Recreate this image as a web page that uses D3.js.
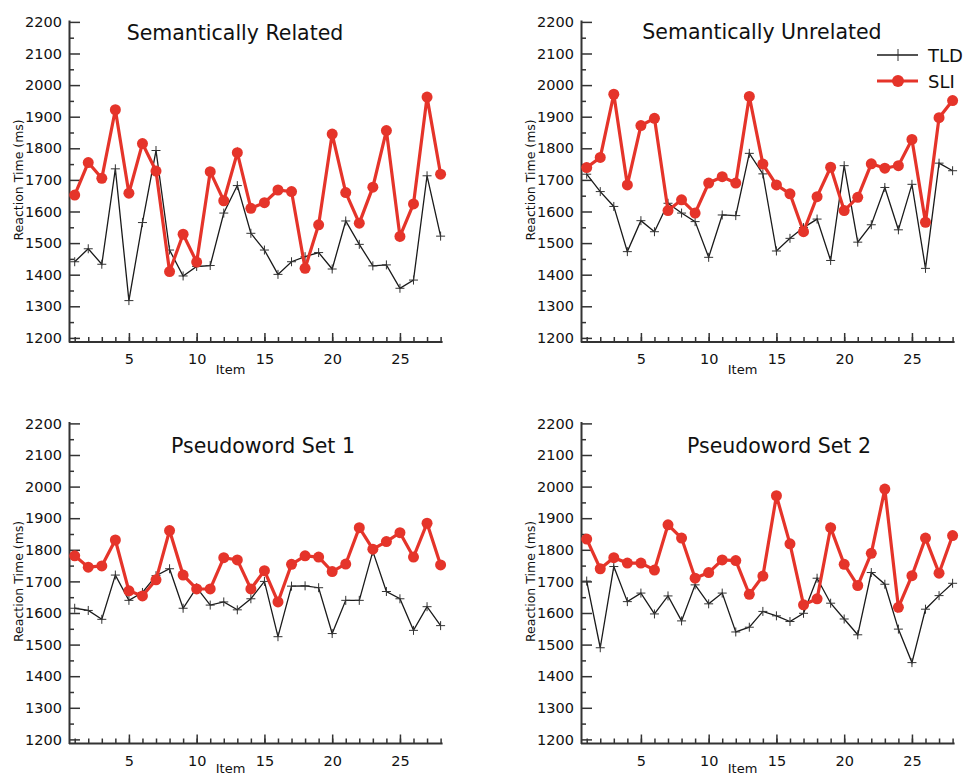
<!DOCTYPE html>
<html>
<head>
<meta charset="utf-8">
<script src="https://d3js.org/d3.v7.min.js"></script>
<style>
	body { margin: 0; background: #fff; }
	text { font-family: "DejaVu Sans", sans-serif; fill: #111; }
	.axis path, .axis line { stroke: #333; }
	.axis text { font-size: 14.5px; font-family: "DejaVu Sans", sans-serif; fill: #111; }
</style>
</head>
<body>
<script>
//item numbers 1..28
var items = d3.range(1, 29);

//tick labels
var yTicks = [1200, 1300, 1400, 1500, 1600, 1700, 1800, 1900, 2000, 2100, 2200],
	xTicks = [5, 10, 15, 20, 25];

//reaction times (ms)
var relatedTLD = [1441,1482,1433,1735,1318,1565,1793,1478,1396,1426,1429,1595,1682,1531,1478,1401,1441,1457,1470,1418,1570,1496,1428,1431,1357,1383,1713,1522];
var relatedSLI = [1652,1755,1705,1922,1658,1815,1728,1410,1528,1440,1726,1634,1786,1610,1628,1668,1663,1420,1558,1845,1660,1563,1677,1856,1521,1624,1962,1718];

var unrelatedTLD = [1718,1663,1616,1473,1571,1536,1626,1595,1568,1455,1589,1587,1784,1719,1475,1515,1549,1576,1445,1745,1503,1558,1676,1542,1686,1420,1753,1729];
var unrelatedSLI = [1739,1771,1971,1684,1872,1895,1603,1637,1595,1690,1710,1690,1964,1750,1684,1656,1536,1647,1740,1603,1645,1751,1737,1745,1828,1566,1897,1951];

var pseudo1TLD = [1615,1608,1580,1720,1640,1665,1718,1740,1615,1680,1625,1635,1610,1645,1700,1525,1685,1686,1680,1535,1640,1640,1795,1668,1645,1545,1620,1560];
var pseudo1SLI = [1781,1745,1749,1831,1670,1654,1705,1861,1720,1676,1676,1775,1768,1676,1734,1635,1754,1781,1777,1731,1755,1870,1802,1826,1854,1777,1884,1752];

var pseudo2TLD = [1701,1490,1747,1636,1663,1597,1654,1575,1689,1629,1663,1540,1555,1605,1591,1573,1599,1710,1631,1581,1531,1728,1691,1549,1443,1612,1655,1694];
var pseudo2SLI = [1834,1740,1775,1758,1758,1736,1879,1837,1710,1728,1768,1766,1659,1717,1971,1819,1626,1645,1870,1754,1687,1789,1992,1618,1718,1837,1726,1845];

var titles = ["Semantically Related", "Semantically Unrelated", "Pseudoword Set 1", "Pseudoword Set 2"];

window.onload = drawChart();

function drawChart(){

	var width = 967,
		height = 776,
		red = "#e5342a";

	var svg = d3.select("body")
		.append("svg")
		.attr("width", width)
		.attr("height", height);

	//panel placement: column, row, title centre, "Item" baseline
	var panels = [
		{title: titles[0], tld: relatedTLD, sli: relatedSLI, col: 0, row: 0, tx: 235, ty: 40, iy: 374},
		{title: titles[1], tld: unrelatedTLD, sli: unrelatedSLI, col: 1, row: 0, tx: 762, ty: 39, iy: 374},
		{title: titles[2], tld: pseudo1TLD, sli: pseudo1SLI, col: 0, row: 1, tx: 263, ty: 453, iy: 773},
		{title: titles[3], tld: pseudo2TLD, sli: pseudo2SLI, col: 1, row: 1, tx: 779, ty: 453, iy: 773}
	];

	panels.forEach(function(p){
		var x0 = 69 + 512 * p.col,
			yOff = 401.5 * p.row;

		var x = d3.scaleLinear()
			.domain([1, 28])
			.range([x0 + 5.7, x0 + 371.6]);

		var y = d3.scaleLinear()
			.domain([1187, 2206])
			.range([342 + yOff, 20 + yOff]);

		var g = svg.append("g");

		//y axis, ticks pointing into the plot
		g.append("g")
			.attr("class", "axis")
			.attr("transform", "translate(" + x0 + ",0)")
			.call(d3.axisLeft(y).tickValues(d3.range(1250, 2200, 100)).tickSizeInner(-5).tickSizeOuter(0).tickFormat(""))
			.call(function(a){ a.select(".domain").remove(); a.selectAll("line").attr("stroke-width", 1.5); });

		g.append("g")
			.attr("class", "axis")
			.attr("transform", "translate(" + x0 + ",0)")
			.call(d3.axisLeft(y).tickValues(yTicks).tickSizeInner(-11).tickSizeOuter(0).tickPadding(7).tickFormat(d3.format("d")))
			.call(function(a){
				a.select(".domain").attr("stroke-width", 2);
				a.selectAll("line").attr("stroke-width", 1.5);
			});

		//x axis, ticks pointing up
		g.append("g")
			.attr("class", "axis")
			.attr("transform", "translate(0," + y(1187) + ")")
			.call(d3.axisBottom(x).tickValues(items).tickSizeInner(-5).tickSizeOuter(0).tickFormat(""))
			.call(function(a){ a.select(".domain").remove(); a.selectAll("line").attr("stroke-width", 1.5); });

		g.append("g")
			.attr("class", "axis")
			.attr("transform", "translate(0," + y(1187) + ")")
			.call(d3.axisBottom(x).tickValues(xTicks).tickSizeInner(-9).tickSizeOuter(0).tickPadding(12).tickFormat(d3.format("d")))
			.call(function(a){
				a.select(".domain").attr("d", "M" + x0 + ",0H" + (x(28) + 2)).attr("stroke-width", 2);
				a.selectAll("line").attr("stroke-width", 1.5);
			});

		//axis titles
		g.append("text")
			.attr("transform", "translate(" + (x0 - 50) + "," + y(1700) + ") rotate(-90)")
			.attr("text-anchor", "middle")
			.attr("dy", "0.35em")
			.style("font-size", "12.5px")
			.text("Reaction Time (ms)");

		g.append("text")
			.attr("x", x(12.5))
			.attr("y", p.iy)
			.attr("text-anchor", "middle")
			.style("font-size", "13px")
			.text("Item");

		//panel title
		g.append("text")
			.attr("x", p.tx)
			.attr("y", p.ty)
			.attr("text-anchor", "middle")
			.style("font-size", "20.5px")
			.text(p.title);

		var line = d3.line()
			.x(function(d, i){ return x(items[i]); })
			.y(function(d){ return y(d); });

		//TLD: thin black line with + markers
		g.append("path")
			.datum(p.tld)
			.attr("fill", "none")
			.attr("stroke", "#1a1a1a")
			.attr("stroke-width", 1.3)
			.attr("d", line);

		g.selectAll(".cross")
			.data(p.tld)
			.enter()
			.append("path")
			.attr("class", "cross")
			.attr("d", function(d, i){
				var cx = x(items[i]), cy = y(d);
				return "M" + (cx - 4.5) + "," + cy + "H" + (cx + 4.5) + "M" + cx + "," + (cy - 4.5) + "V" + (cy + 4.5);
			})
			.attr("stroke", "#333")
			.attr("stroke-width", 1);

		//SLI: thick red line with dots
		g.append("path")
			.datum(p.sli)
			.attr("fill", "none")
			.attr("stroke", red)
			.attr("stroke-width", 3.2)
			.attr("d", line);

		g.selectAll(".dot")
			.data(p.sli)
			.enter()
			.append("circle")
			.attr("class", "dot")
			.attr("cx", function(d, i){ return x(items[i]); })
			.attr("cy", function(d){ return y(d); })
			.attr("r", 5.5)
			.attr("fill", red);
	});

	//legend
	var legend = svg.append("g");

	legend.append("line")
		.attr("x1", 877).attr("x2", 918)
		.attr("y1", 55).attr("y2", 55)
		.attr("stroke", "#1a1a1a").attr("stroke-width", 1.3);
	legend.append("path")
		.attr("d", "M898,49V61")
		.attr("stroke", "#333").attr("stroke-width", 1);
	legend.append("text")
		.attr("x", 928).attr("y", 62)
		.style("font-size", "18px")
		.text("TLD");

	legend.append("line")
		.attr("x1", 877).attr("x2", 918)
		.attr("y1", 81).attr("y2", 81)
		.attr("stroke", red).attr("stroke-width", 3.2);
	legend.append("circle")
		.attr("cx", 898).attr("cy", 81).attr("r", 6)
		.attr("fill", red);
	legend.append("text")
		.attr("x", 928).attr("y", 88)
		.style("font-size", "18px")
		.text("SLI");
};
</script>
</body>
</html>
